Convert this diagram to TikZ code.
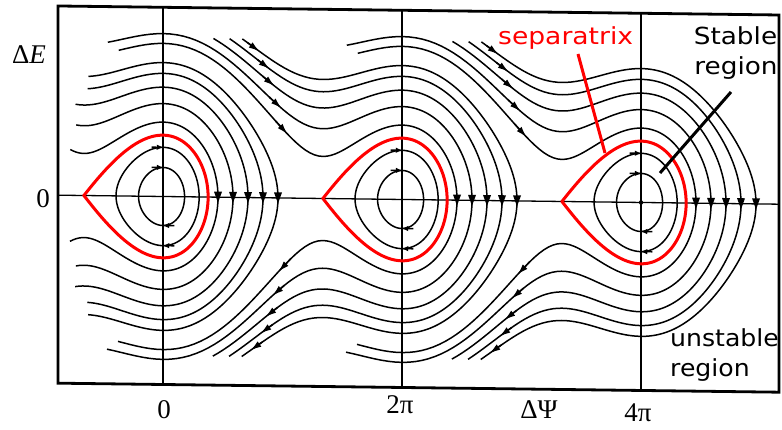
\documentclass[tikz,border=0pt]{standalone}
\usepackage{fontspec}
\setmainfont{Liberation Serif}
\newfontfamily\dvsans{DejaVu Sans}
\usetikzlibrary{arrows.meta}
\tikzset{
  curve/.style={line width=1.5pt,black,line join=round},
  sepx/.style={line width=3pt,red,line join=round},
  gridl/.style={line width=1.3pt,black},
  framel/.style={line width=2.8pt,black,line join=miter},
  flowarrow/.style={line width=1.5pt,black,-{Latex[length=11pt,width=6.5pt]}},
  orbarrow/.style={line width=1.5pt,black,-{Latex[length=7pt,width=5.5pt]}},
  axtri/.style={fill=black},
  txtlbl/.style={font=\fontsize{23.5}{28}\dvsans,inner sep=0pt},
  mathlbl/.style={font=\fontsize{27}{30}\selectfont,inner sep=0pt},
  pointer/.style={line width=3pt},
}
% open trajectory: #1 turning phase, #2 energy, #3 start phase
\newcommand\opencurve[3]{%
  \draw[curve] plot[domain=-1:1,samples=201,variable=\s]
    ({#1-(#1-(#3))*(\s)*(\s)},
     {(1-2*(\s<0))*sqrt(2*max(0,#2-Uf(#1-(#1-(#3))*(\s)*(\s))))});
  \fill[axtri] (#1,0) ++(-4pt,5.5pt) -- ++(8pt,0pt) -- ++(-4pt,-11pt) -- cycle;
}
% closed orbit: #1 left, #2 right turning phase, #3 energy, #4 style
\newcommand\closedcurve[4]{%
  \draw[#4] plot[domain=0:360,samples=241,variable=\t]
    ({(#1+#2)/2+(#2-(#1))/2*cos(\t)},
     {(1-2*(sin(\t)<0))*sqrt(2*max(0,#3-Uf((#1+#2)/2+(#2-(#1))/2*cos(\t))))}) -- cycle;
}
% flow arrows on streaming lines: #1 centre phase, #2 energy
\newcommand\flowarr[2]{%
  \draw[flowarrow] plot[domain=0:1,samples=2,variable=\u]
    ({#1-0.2+0.32*\u},{sqrt(2*max(0,#2-Uf(#1-0.2+0.32*\u)))});
  \draw[flowarrow] plot[domain=0:1,samples=2,variable=\u]
    ({#1+0.2-0.32*\u},{-sqrt(2*max(0,#2-Uf(#1+0.2-0.32*\u)))});
}
% one bucket family: #1 shift, #2..#6 start phases of j1..j5
\newcommand\bucketfamily[6]{%
  \begin{scope}[shift={(#1,0)}]
    \opencurve{1.4458}{0.98447}{#2}
    \opencurve{1.8402}{1.53568}{#3}
    \opencurve{2.2345}{2.12660}{#4}
    \opencurve{2.6288}{2.69738}{#5}
    \opencurve{3.0231}{3.19109}{#6}
    \closedcurve{-0.6428}{0.56693}{0.15}{curve}
    \closedcurve{-1.2346}{0.95021}{0.43}{curve}
    \closedcurve{-2.07759}{1.1860}{0.66973}{sepx}
    \draw[orbarrow] (-0.3,0.5477) -- (0.02,0.5477);
    \draw[orbarrow] (-0.3,0.9274) -- (0.02,0.9274);
    \draw[orbarrow] (0.3,-0.5477) -- (-0.02,-0.5477);
    \draw[orbarrow] (0.3,-0.9274) -- (-0.02,-0.9274);
  \end{scope}%
}
\newcommand\streamarrows[1]{%
  \begin{scope}[shift={(#1,0)}]
    \flowarr{-3.128}{0.98447}
    \flowarr{-3.286}{1.53568}
    \flowarr{-3.470}{2.12660}
    \flowarr{-3.601}{2.69738}
    \flowarr{-3.864}{3.19109}
  \end{scope}%
}
\begin{document}
\begin{tikzpicture}[x=1pt,y=1pt,
  declare function={Uf(\p)=-cos(deg(\p-0.532))+0.86181+0.50726*\p;}]
\useasboundingbox (0,0) rectangle (782,430);
\begin{scope}[shift={(163,233.5)},yslant=-0.0125]
  % axes and frame
  \draw[gridl] (-105,0) -- (616,0);
  \foreach \k in {0,1,2} \draw[gridl] ({\k*239.04},-188) -- ({\k*239.04},189.2);
  \draw[framel] (-105,-188) -- (616,-188) -- (616,189.2) -- (-105,189.2) -- cycle;
  \begin{scope}[x=38.04pt,y=53pt]
    \bucketfamily{0}{-2.445}{-2.29}{-2.31}{-1.99}{-1.97}
    \bucketfamily{6.28319}{-7.466}{-7.755}{-4.973}{-4.5468}{-4.2137}
    \bucketfamily{12.56637}{-7.466}{-7.755}{-4.973}{-4.5468}{-4.2137}
    \streamarrows{6.28319}
    \streamarrows{12.56637}
    \fill (12.56637,0) circle (2.2pt);
  \end{scope}
\end{scope}
% labels
\node[mathlbl] (lDE) at (29,375) {Δ\textit{E}};
\node[mathlbl] (l0) at (43,231) {0};
\node[mathlbl,anchor=base] (b0) at (164,11) {0};
\node[mathlbl,anchor=base] (b2pi) at (400,16) {2π};
\node[mathlbl,anchor=base] (bdpsi) at (539,11) {ΔΨ};
\node[mathlbl,anchor=base] (b4pi) at (638,8) {4π};
\node[txtlbl,text=red,anchor=base west] (seplbl) at (498,385) {\scalebox{1.13}[1]{separatrix}};
\node[txtlbl,anchor=base] (stab1) at (735.5,385) {\scalebox{1.12}[1]{Stable}};
\node[txtlbl,anchor=base] (stab2) at (736,355) {\scalebox{1.12}[1]{region}};
\node[txtlbl,anchor=base west] (unst1) at (670,83) {\scalebox{1.07}[1]{unstable}};
\node[txtlbl,anchor=base west] (unst2) at (670,53) {\scalebox{1.07}[1]{region}};
\coordinate (sepA) at (578,376);
\coordinate (sepB) at (605,277);
\draw[pointer,red] (sepA) -- (sepB);
\coordinate (stA) at (731,338);
\coordinate (stB) at (660,257);
\draw[pointer] (stA) -- (stB);
\end{tikzpicture}
\end{document}
